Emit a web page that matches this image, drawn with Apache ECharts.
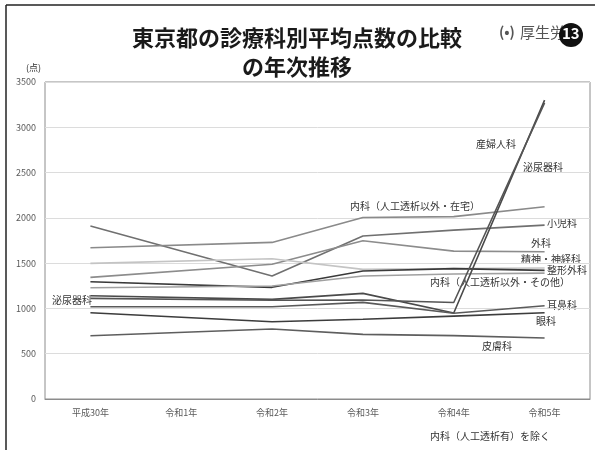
<!DOCTYPE html>
<html>
<head>
<meta charset="utf-8">
<script src="https://cdn.jsdelivr.net/npm/echarts@6/dist/echarts.min.js"></script>
<style>
  html, body { margin: 0; padding: 0; background: #fff; }
  #chart { width: 595px; height: 450px; }
</style>
</head>
<body>
<div id="chart"></div>
<script>
// 年次（令和1年はデータなし）
const years = ['平成30年', '令和1年', '令和2年', '令和3年', '令和4年', '令和5年'];
const yTicks = [0, 500, 1000, 1500, 2000, 2500, 3000, 3500];

// 診療科別平均点数
const shonika        = [1909, null, 1358, 1799, 1865, 1920]; // 小児科
const naikaZaitaku   = [1670, null, 1729, 2004, 2014, 2122]; // 内科（人工透析以外・在宅）
const geka           = [1343, null, 1487, 1748, 1633, 1626]; // 外科
const seishin        = [1497, null, 1549, 1431, 1440, 1446]; // 精神・神経科
const seikei         = [1295, null, 1233, 1413, 1440, 1420]; // 整形外科
const naikaSonota    = [1229, null, 1247, 1358, 1380, 1390]; // 内科（人工透析以外・その他）
const sanfujin       = [1140, null, 1100, 1166, 950, 3300];  // 産婦人科
const hinyoki        = [1111, null, 1090, 1093, 1065, 3270]; // 泌尿器科
const jibika         = [1019, null, 1019, 1067, 946, 1030];  // 耳鼻科
const ganka          = [952, null, 853, 880, 915, 952];      // 眼科
const hifuka         = [699, null, 773, 714, 700, 673];      // 皮膚科

const seriesDefs = [
  { name: '小児科', data: shonika, color: '#707070' },
  { name: '内科（人工透析以外・在宅）', data: naikaZaitaku, color: '#8a8a8a' },
  { name: '外科', data: geka, color: '#8c8c8c' },
  { name: '精神・神経科', data: seishin, color: '#c4c4c4' },
  { name: '整形外科', data: seikei, color: '#3a3a3a' },
  { name: '内科（人工透析以外・その他）', data: naikaSonota, color: '#a0a0a0' },
  { name: '産婦人科', data: sanfujin, color: '#4a4a4a' },
  { name: '泌尿器科', data: hinyoki, color: '#555555' },
  { name: '耳鼻科', data: jibika, color: '#5a5a5a' },
  { name: '眼科', data: ganka, color: '#3c3c3c' },
  { name: '皮膚科', data: hifuka, color: '#5e5e5e' }
];

const FONT = '"Noto Sans CJK JP", "Noto Sans", sans-serif';

function note(text, x, y, size, align) {
  return {
    type: 'text', left: x, top: y,
    style: { text: text, font: (size || 10) + 'px ' + FONT, fill: '#333', textAlign: align || 'left' }
  };
}

const chart = echarts.init(document.getElementById('chart'), null, { renderer: 'canvas' });

chart.setOption({
  backgroundColor: '#fff',
  animation: false,
  title: {
    text: '東京都の診療科別平均点数の比較\nの年次推移',
    left: 292, top: 18, textAlign: 'center',
    textStyle: { fontFamily: FONT, fontSize: 22, fontWeight: 'bold', color: '#1a1a1a', lineHeight: 29 }
  },
  grid: { left: 45, right: 5, top: 82, bottom: 51, show: true, borderColor: '#8c8c8c', borderWidth: 1 },
  xAxis: {
    type: 'category', data: years, boundaryGap: true,
    axisTick: { show: false },
    axisLine: { lineStyle: { color: '#8c8c8c' } },
    axisLabel: { fontFamily: FONT, fontSize: 9, color: '#595959', margin: 9 }
  },
  yAxis: {
    type: 'value', min: yTicks[0], max: yTicks[yTicks.length - 1], interval: 500,
    name: '(点)', nameLocation: 'end', nameGap: 10,
    nameTextStyle: { fontFamily: FONT, fontSize: 9, color: '#333', align: 'right', padding: [0, 4, 0, 0] },
    axisLine: { show: false }, axisTick: { show: false },
    axisLabel: { fontFamily: FONT, fontSize: 9, color: '#595959', margin: 9, formatter: v => String(v) },
    splitLine: { lineStyle: { color: '#dcdcdc' } }
  },
  series: seriesDefs.map(s => ({
    name: s.name, type: 'line', data: s.data, connectNulls: true,
    symbol: 'none', lineStyle: { color: s.color, width: 1.6 }
  })),
  graphic: [
    { type: 'line', shape: { x1: 6, y1: 5, x2: 595, y2: 5 }, style: { stroke: '#222', lineWidth: 1.5 } },
    { type: 'line', shape: { x1: 6, y1: 5, x2: 6, y2: 450 }, style: { stroke: '#222', lineWidth: 1.5 } },
    // ロゴ
    { type: 'text', left: 499, top: 25, style: { text: '(•)', font: 'bold 14px ' + FONT, fill: '#555' } },
    { type: 'text', left: 520, top: 25, style: { text: '厚生労', font: '15px ' + FONT, fill: '#555' } },
    { type: 'circle', shape: { cx: 571, cy: 35, r: 12 }, style: { fill: '#111' } },
    { type: 'text', left: 562, top: 26, style: { text: '13', font: 'bold 15px ' + FONT, fill: '#fff' } },
    // 系列ラベル
    note('産婦人科', 476, 139),
    note('泌尿器科', 523, 162),
    note('内科（人工透析以外・在宅）', 350, 201),
    note('小児科', 547, 218),
    note('外科', 531, 238),
    note('精神・神経科', 521, 254),
    note('整形外科', 547, 265),
    note('内科（人工透析以外・その他）', 430, 277),
    note('耳鼻科', 547, 300),
    note('眼科', 536, 316),
    note('皮膚科', 482, 341),
    note('泌尿器科', 52, 295),
    note('内科（人工透析有）を除く', 430, 431)
  ]
});
</script>
</body>
</html>
